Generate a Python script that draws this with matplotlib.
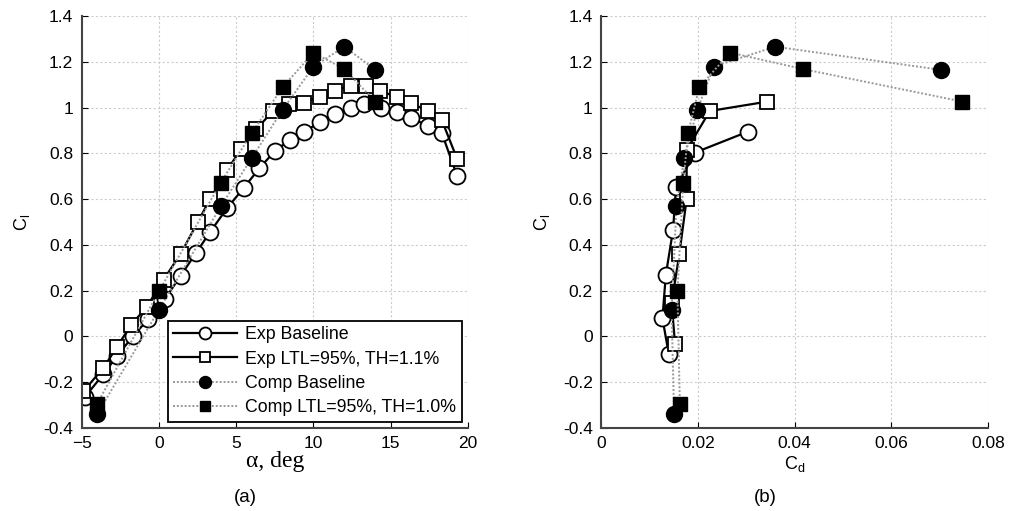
import numpy as np
import matplotlib
matplotlib.use('Agg')
import matplotlib.pyplot as plt

plt.rcParams['font.family'] = ['Liberation Sans', 'DejaVu Sans']

# (a) lift curves, alpha in deg
alpha_exp_base = [-4.8, -3.6, -2.7, -1.7, -0.7, 0.4, 1.4, 2.4, 3.3, 4.4, 5.5, 6.5, 7.5,
                  8.5, 9.4, 10.4, 11.4, 12.4, 13.3, 14.4, 15.4, 16.3, 17.4, 18.3, 19.3]
cl_exp_base = [-0.265, -0.165, -0.085, 0.0, 0.075, 0.165, 0.265, 0.365, 0.455, 0.56, 0.65,
               0.735, 0.81, 0.86, 0.895, 0.935, 0.97, 1.0, 1.015, 1.0, 0.98, 0.955, 0.92,
               0.89, 0.70]
alpha_exp_ltl = [-4.9, -3.6, -2.7, -1.8, -0.8, 0.3, 1.4, 2.5, 3.3, 4.4, 5.3, 6.3, 7.4,
                 8.4, 9.4, 10.4, 11.4, 12.4, 13.4, 14.3, 15.4, 16.3, 17.4, 18.3, 19.3]
cl_exp_ltl = [-0.24, -0.138, -0.044, 0.051, 0.128, 0.248, 0.361, 0.498, 0.60, 0.725, 0.818,
              0.906, 0.986, 1.016, 1.022, 1.048, 1.074, 1.095, 1.095, 1.074, 1.045, 1.019,
              0.986, 0.946, 0.775]
alpha_comp = [-4, 0, 4, 6, 8, 10, 12, 14]
cl_comp_base = [-0.34, 0.117, 0.568, 0.779, 0.99, 1.179, 1.266, 1.165]
cl_comp_ltl = [-0.294, 0.197, 0.672, 0.888, 1.089, 1.24, 1.168, 1.026]

# (b) drag polars
cd_exp_base = [0.0140, 0.0127, 0.0134, 0.0149, 0.0155, 0.0194, 0.0304]
cl_exp_base_b = [-0.076, 0.08, 0.269, 0.466, 0.652, 0.803, 0.895]
cd_exp_ltl = [0.0153, 0.0146, 0.0162, 0.0177, 0.0177, 0.0225, 0.0344]
cl_exp_ltl_b = [-0.032, 0.146, 0.361, 0.600, 0.815, 0.985, 1.026]
cd_comp_base = [0.0151, 0.0146, 0.0156, 0.0172, 0.0199, 0.0233, 0.0360, 0.0702]
cd_comp_ltl = [0.0163, 0.0158, 0.0170, 0.0180, 0.0203, 0.0267, 0.0418, 0.0747]

labels = ['Exp Baseline', 'Exp LTL=95%, TH=1.1%', 'Comp Baseline', 'Comp LTL=95%, TH=1.0%']

exp_kw = dict(color='black', lw=1.6, mfc='white', mec='black', mew=1.3)
comp_kw = dict(color='#999999', lw=1.4, ls=(0, (1, 1)), mfc='black', mec='black')

fig = plt.figure(figsize=(10.1, 5.11), dpi=100)
ax1 = fig.add_axes([81.7 / 1010, 1 - 428 / 511, 386.3 / 1010, 412 / 511])
ax2 = fig.add_axes([601 / 1010, 1 - 428 / 511, 387 / 1010, 412 / 511])

ax1.plot(alpha_exp_base, cl_exp_base, marker='o', ms=11.5, label=labels[0], **exp_kw)
ax1.plot(alpha_exp_ltl, cl_exp_ltl, marker='s', ms=9.5, label=labels[1], **exp_kw)
ax1.plot(alpha_comp, cl_comp_base, marker='o', ms=11.5, label=labels[2], **comp_kw)
ax1.plot(alpha_comp, cl_comp_ltl, marker='s', ms=10, label=labels[3], **comp_kw)

ax2.plot(cd_exp_base, cl_exp_base_b, marker='o', ms=11.5, **exp_kw)
ax2.plot(cd_exp_ltl, cl_exp_ltl_b, marker='s', ms=9.5, **exp_kw)
ax2.plot(cd_comp_base, cl_comp_base, marker='o', ms=11.5, **comp_kw)
ax2.plot(cd_comp_ltl, cl_comp_ltl, marker='s', ms=10, **comp_kw)

ax1.set_xlim(-5, 20)
ax1.set_xticks([-5, 0, 5, 10, 15, 20])
ax2.set_xlim(0, 0.08)
ax2.set_xticks([0, 0.02, 0.04, 0.06, 0.08])
ax2.set_xticklabels(['0', '0.02', '0.04', '0.06', '0.08'])

yt = [-0.4, -0.2, 0, 0.2, 0.4, 0.6, 0.8, 1, 1.2, 1.4]
ytl = ['-0.4', '-0.2', '0', '0.2', '0.4', '0.6', '0.8', '1', '1.2', '1.4']
for ax in (ax1, ax2):
    ax.set_ylim(-0.4, 1.4)
    ax.set_yticks(yt)
    ax.set_yticklabels(ytl)
    ax.grid(True, color='#cccccc', ls=(0, (2, 2)), lw=0.8)
    ax.set_axisbelow(True)
    ax.spines['top'].set_visible(False)
    ax.spines['right'].set_visible(False)
    ax.spines['left'].set_linewidth(1.5)
    ax.spines['bottom'].set_linewidth(1.5)
    ax.spines['left'].set_color('#444444')
    ax.spines['bottom'].set_color('#444444')
    ax.tick_params(direction='in', length=4, labelsize=12.5, pad=6)
    ax.set_ylabel('C$_\\mathregular{l}$', fontsize=13, labelpad=8)
    for lbl in ax.get_xticklabels():
        lbl.set_clip_on(False)

ax1.set_xlabel('α, deg', fontsize=17, family=['Liberation Serif', 'DejaVu Serif'], labelpad=0)
ax2.set_xlabel('C$_\\mathregular{d}$', fontsize=13, labelpad=2)

leg = ax1.legend(loc='lower right', fontsize=12.8, frameon=True, fancybox=False,
                 edgecolor='black', framealpha=1, handlelength=3.6, borderpad=0.3,
                 labelspacing=0.42, handletextpad=0.45, borderaxespad=0.35,
                 markerscale=0.75)
leg.get_frame().set_linewidth(1.3)

fig.text(245 / 1010, 1 - 497 / 511, '(a)', ha='center', va='center', fontsize=13.5)
fig.text(765 / 1010, 1 - 497 / 511, '(b)', ha='center', va='center', fontsize=13.5)

fig.savefig('out.png', dpi=100)
